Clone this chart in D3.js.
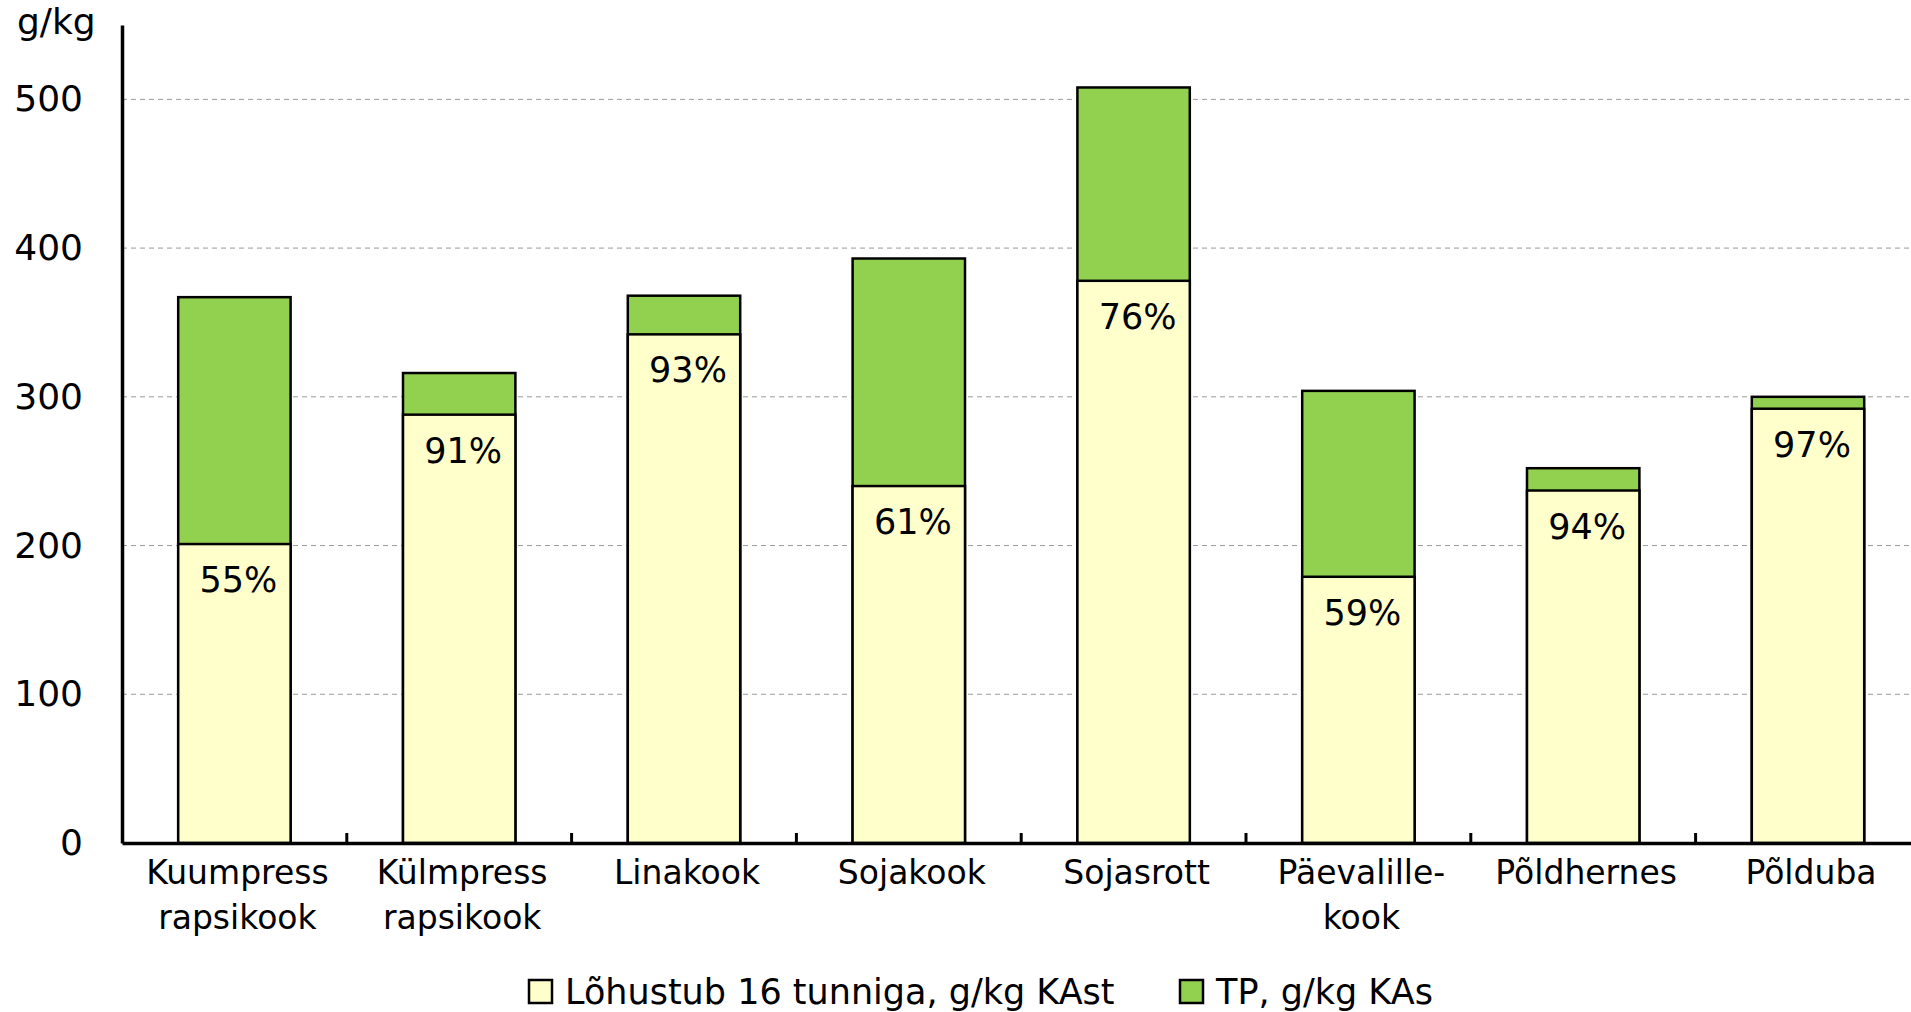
<!DOCTYPE html>
<html lang="et">
<head>
    <meta charset="UTF-8">
    <title>Lõhustuvus 16 tunniga</title>
    <script src="https://d3js.org/d3.v7.min.js"></script>
    <style>
        body { margin: 0; background: #fff; }
        svg { display: block; font-family: "DejaVu Sans", sans-serif; }
        .grid line { stroke: #9a9a9a; stroke-width: 1; stroke-dasharray: 5 4; }
        .bar { stroke: #000; stroke-width: 2.5; }
    </style>
</head>
<body>
    <div id="chart"></div>
    <script>
        // data (g/kg)
        const categories = ["Kuumpress rapsikook", "Külmpress rapsikook", "Linakook", "Sojakook",
            "Sojasrott", "Päevalille-kook", "Põldhernes", "Põlduba"];
        const labelLines = [["Kuumpress", "rapsikook"], ["Külmpress", "rapsikook"], ["Linakook"], ["Sojakook"],
            ["Sojasrott"], ["Päevalille-", "kook"], ["Põldhernes"], ["Põlduba"]];
        const lohustub = [201, 288, 342, 240, 378, 179, 237, 292];
        const tp = [367, 316, 368, 393, 508, 304, 252, 300];
        const pctLabels = ["55%", "91%", "93%", "61%", "76%", "59%", "94%", "97%"];
        const yTicks = [0, 100, 200, 300, 400, 500];
        const legendItems = ["Lõhustub 16 tunniga, g/kg KAst", "TP, g/kg KAs"];

        const W = 1911, H = 1012;
        const x0 = 122, y0 = 843, yTop = 25;
        const step = 224.8;

        const svg = d3.select("#chart").append("svg")
            .attr("width", W).attr("height", H);

        const x = d3.scaleBand()
            .domain(categories)
            .range([x0, x0 + step * categories.length])
            .paddingInner(0.5)
            .paddingOuter(0.25);

        const y = d3.scaleLinear()
            .domain([0, 550])
            .range([y0, yTop]);

        // gridlines
        svg.append("g").attr("class", "grid")
            .selectAll("line")
            .data(yTicks.filter(d => d > 0))
            .join("line")
            .attr("x1", x0).attr("x2", W)
            .attr("y1", d => y(d)).attr("y2", d => y(d));

        // TP bars (full height, green)
        svg.selectAll(".tp")
            .data(tp)
            .join("rect")
            .attr("class", "bar tp")
            .attr("fill", "#92d050")
            .attr("x", (d, i) => x(categories[i]))
            .attr("y", d => y(d))
            .attr("width", x.bandwidth())
            .attr("height", d => y(0) - y(d));

        // Lõhustub bars (yellow, in front)
        svg.selectAll(".loh")
            .data(lohustub)
            .join("rect")
            .attr("class", "bar loh")
            .attr("fill", "#ffffcc")
            .attr("x", (d, i) => x(categories[i]))
            .attr("y", d => y(d))
            .attr("width", x.bandwidth())
            .attr("height", d => y(0) - y(d));

        // percent labels
        svg.selectAll(".pct")
            .data(lohustub)
            .join("text")
            .attr("class", "pct")
            .attr("x", (d, i) => x(categories[i]) + x.bandwidth() / 2 + 4)
            .attr("y", d => y(d) + 48)
            .attr("text-anchor", "middle")
            .attr("font-size", 35)
            .attr("fill", "#000")
            .text((d, i) => pctLabels[i]);

        // y axis
        const yAxis = svg.append("g")
            .attr("transform", `translate(${x0},0)`)
            .call(d3.axisLeft(y).tickValues(yTicks).tickSize(0).tickPadding(39));
        yAxis.select(".domain").attr("stroke", "#000").attr("stroke-width", 3.5);
        yAxis.selectAll(".tick text")
            .attr("font-size", 36)
            .attr("font-family", "DejaVu Sans, sans-serif")
            .attr("fill", "#000");

        // x axis
        const xAxis = svg.append("g")
            .attr("transform", `translate(0,${y0})`)
            .call(d3.axisBottom(x).tickSize(0).tickFormat(""));
        xAxis.select(".domain").attr("stroke", "#000").attr("stroke-width", 3.5);

        // boundary ticks between categories (pointing up)
        xAxis.selectAll(".btick")
            .data(d3.range(1, categories.length))
            .join("line")
            .attr("class", "btick")
            .attr("x1", i => x0 + i * x.step())
            .attr("x2", i => x0 + i * x.step())
            .attr("y1", 0).attr("y2", -10)
            .attr("stroke", "#000").attr("stroke-width", 3);

        // category labels
        xAxis.selectAll(".tick text").remove();
        xAxis.selectAll(".tick")
            .append("text")
            .attr("font-size", 33)
            .attr("font-family", "DejaVu Sans, sans-serif")
            .attr("fill", "#000")
            .attr("text-anchor", "middle")
            .each(function(d, i) {
                const t = d3.select(this);
                labelLines[i].forEach((line, j) => {
                    t.append("tspan")
                        .attr("x", 3)
                        .attr("y", 41 + j * 45)
                        .text(line);
                });
            });

        // unit label
        svg.append("text")
            .attr("x", 17).attr("y", 34)
            .attr("font-size", 36)
            .attr("fill", "#000")
            .text("g/kg");

        // legend
        const legendX = [529, 1180];
        const legendColors = ["#ffffcc", "#92d050"];
        const legend = svg.append("g");
        legendItems.forEach((name, i) => {
            legend.append("rect")
                .attr("x", legendX[i]).attr("y", 980)
                .attr("width", 23).attr("height", 23)
                .attr("fill", legendColors[i])
                .attr("stroke", "#000").attr("stroke-width", 2.5);
            legend.append("text")
                .attr("x", legendX[i] + 36).attr("y", 1004)
                .attr("font-size", 35)
                .attr("fill", "#000")
                .text(name);
        });
    </script>
</body>
</html>
